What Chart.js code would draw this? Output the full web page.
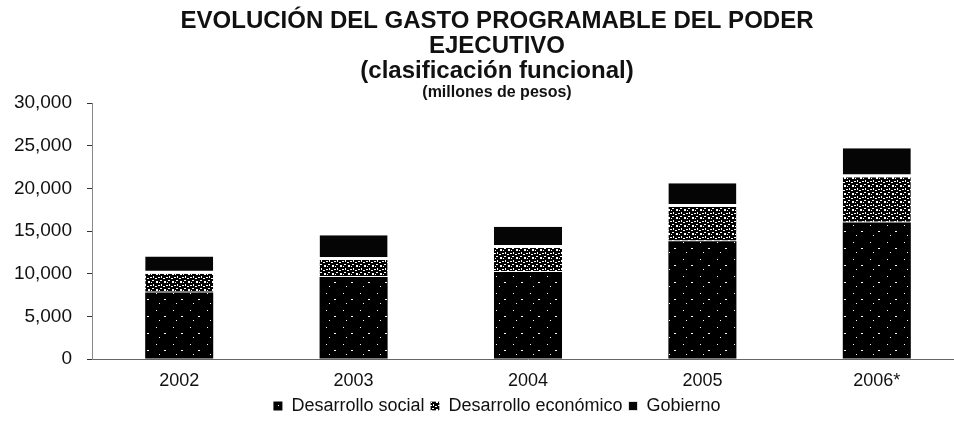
<!DOCTYPE html>
<html>
<head>
<meta charset="utf-8">
<script src="https://cdn.jsdelivr.net/npm/chart.js@4/dist/chart.umd.min.js"></script>
<style>
  html, body { margin: 0; padding: 0; background: #fff; overflow: hidden; }
</style>
</head>
<body>
<canvas id="chart" width="994" height="425"></canvas>
<script>
// valores (millones de pesos)
const years = ['2002', '2003', '2004', '2005', '2006*'];
const social = [7800, 9600, 10200, 13800, 16000];
const economico = [2200, 2000, 2800, 4000, 5300];
const gobierno = [2000, 2900, 2500, 2800, 3400];
const yTicks = [0, 5000, 10000, 15000, 20000, 25000, 30000];

const FONT = "Arial, 'Liberation Sans', sans-serif";

// textura moteada tipo fotocopia
function speckle(size, dots) {
    let cvs = document.createElement('canvas'),
        ctx = cvs.getContext('2d');
    cvs.width = cvs.height = size;
    ctx.fillStyle = '#000';
    ctx.fillRect(0, 0, size, size);
    ctx.fillStyle = '#fff';
    dots.forEach(d => ctx.fillRect(d[0], d[1], d[2] || 1, d[3] || 1));
    return ctx.createPattern(cvs, 'repeat');
}
const socialFill = speckle(17, [[3, 4], [11, 10, 2, 1], [6, 14]]);
const econFill = speckle(8, [[0, 0, 2, 1], [4, 1, 2, 2], [1, 4, 1, 2], [6, 5, 2, 1], [3, 6, 2, 1], [7, 2]]);

new Chart(document.getElementById('chart'), {
    type: 'bar',
    data: {
        labels: years,
        datasets: [{
            label: 'Desarrollo social',
            data: social,
            backgroundColor: socialFill,
            borderWidth: 0
        }, {
            label: 'Desarrollo económico',
            data: economico,
            backgroundColor: econFill,
            borderColor: '#fff',
            borderSkipped: false,
            borderWidth: {top: 0, left: 0, right: 0, bottom: 1}
        }, {
            label: 'Gobierno',
            data: gobierno,
            backgroundColor: '#050505',
            borderColor: '#fff',
            borderSkipped: false,
            borderWidth: {top: 0, left: 0, right: 0, bottom: 3}
        }]
    },
    options: {
        responsive: false,
        animation: false,
        datasets: {
            bar: {barPercentage: 0.39, categoryPercentage: 1}
        },
        layout: {padding: 0},
        plugins: {
            title: {
                display: true,
                text: ['EVOLUCIÓN DEL GASTO PROGRAMABLE DEL PODER', 'EJECUTIVO', '(clasificación funcional)'],
                color: '#111',
                font: {family: FONT, size: 24, weight: 'bold', lineHeight: '25px'},
                padding: {top: 9, bottom: 0}
            },
            subtitle: {
                display: true,
                text: '(millones de pesos)',
                color: '#111',
                font: {family: FONT, size: 16, weight: 'bold', lineHeight: '16px'},
                padding: {top: 1, bottom: 2}
            },
            legend: {
                position: 'bottom',
                labels: {
                    color: '#111',
                    font: {family: FONT, size: 18},
                    boxWidth: 9,
                    boxHeight: 9,
                    padding: 6
                }
            },
            tooltip: {enabled: false}
        },
        scales: {
            x: {
                stacked: true,
                afterFit: s => { s.height = 32; },
                grid: {display: false, drawTicks: false},
                border: {display: true, color: '#666', dash: [5, 4]},
                ticks: {color: '#111', font: {family: FONT, size: 18}, padding: 11}
            },
            y: {
                stacked: true,
                min: 0,
                max: 30000,
                afterBuildTicks: s => { s.ticks = yTicks.map(v => ({value: v})); },
                afterFit: s => { s.width = 92; },
                grid: {drawOnChartArea: false, drawTicks: true, tickLength: 5, color: '#333'},
                border: {display: true, color: '#888', dash: [1, 4]},
                ticks: {
                    color: '#111',
                    font: {family: FONT, size: 19},
                    padding: 15,
                    callback: v => v.toLocaleString('en-US')
                }
            },
            // eje vacio a la derecha, solo para reservar margen
            y2: {
                position: 'right',
                afterFit: s => { s.width = 30; },
                grid: {display: false},
                border: {display: false},
                ticks: {display: false}
            }
        }
    }
});
</script>
</body>
</html>
